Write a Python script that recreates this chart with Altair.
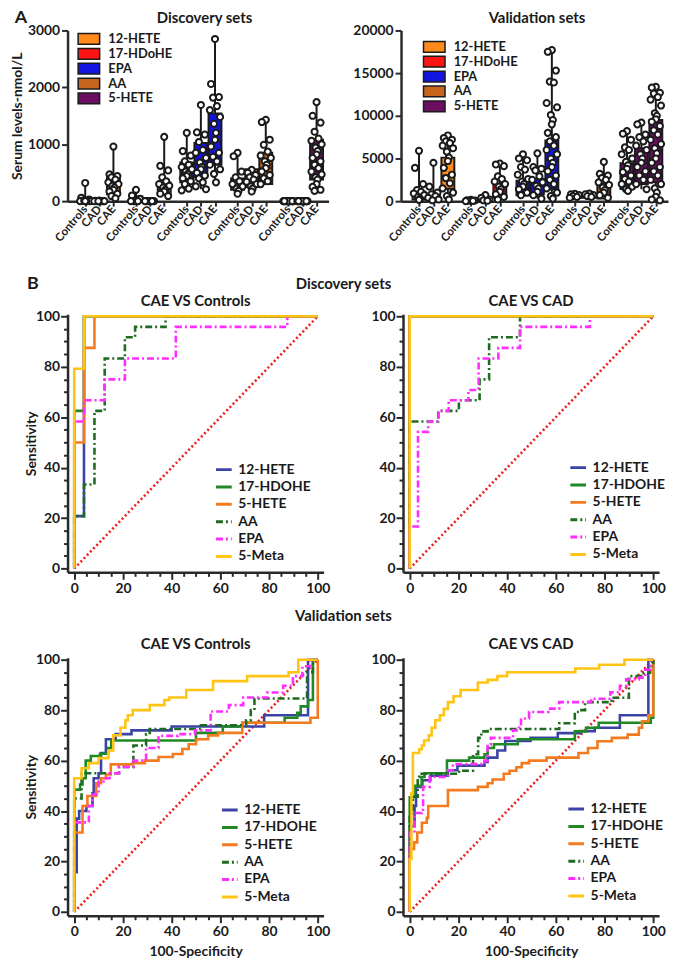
import altair as alt
import numpy as np
import pandas as pd

FONT = "Lato"
INK = "#1a1a1a"
AXC = "#2a2a2a"

# ---------------- Panel A data ----------------
analytes = ["12-HETE", "17-HDoHE", "EPA", "AA", "5-HETE"]
groups = ["Controls", "CAD", "CAE"]
analyte_colors = ["#FF8A1C", "#FF1414", "#1414E0", "#C8651C", "#6B0E62"]

disc_12hete = [[320, 60, 30, 10, 0, 0, 0, 5, 0, 0],
               [10, 5, 0, 0, 0, 0, 0, 0],
               [960, 470, 440, 420, 380, 330, 300, 270, 240, 200, 170, 130, 90, 50]]
disc_17hdohe = [[200, 100, 40, 0, 0, 0],
                [0, 0, 0, 0, 0, 0],
                [1130, 620, 540, 420, 350, 300, 270, 240, 200, 170, 130, 90]]
disc_epa = [[1200, 880, 800, 700, 640, 600, 560, 520, 480, 440, 400, 350, 300, 220, 190],
            [1690, 1210, 1170, 1040, 900, 850, 760, 680, 600, 560, 500, 450, 400, 330, 260, 210],
            [2850, 2060, 1830, 1820, 1670, 1600, 1480, 1360, 1200, 1080, 960, 850, 780, 700, 640, 560, 480, 330]]
disc_aa = [[850, 790, 520, 420, 350, 300, 260, 220, 180, 130],
           [550, 500, 460, 420, 380, 340, 300, 260, 220, 170],
           [1430, 1390, 1080, 990, 870, 800, 760, 700, 640, 580, 520, 460, 400, 350, 300]]
disc_5hete = [[0, 0, 0, 0, 0, 0, 0, 0, 0, 0, 0, 0],
              [0, 0, 0, 0, 0, 0, 0, 0, 0, 0, 0, 0],
              [1740, 1500, 1380, 1220, 1100, 1060, 1000, 940, 880, 820, 760, 700, 640, 580, 520, 470, 420, 380, 300, 250, 200, 180]]

val_12hete = [[5900, 3900, 2000, 1300, 1100, 900, 700, 500, 300, 150],
              [4500, 1700, 1000, 800, 600, 400, 200, 100],
              [7700, 7400, 7200, 7000, 6800, 6500, 6200, 5800, 5100, 4700, 3900, 3100, 2700, 2100, 1500, 1000, 600, 200]]
val_17hdohe = [[150, 100, 80, 50, 30, 0],
               [700, 400, 200, 100, 50],
               [4400, 4300, 4100, 2900, 2600, 2300, 2000, 1700, 1400, 1100, 800, 500, 200]]
val_epa = [[5500, 5000, 4800, 4000, 3700, 3100, 2600, 2300, 2000, 1700, 1400, 1000, 700],
           [5600, 4000, 3800, 3600, 2900, 2500, 2200, 1800, 1500, 1100, 700, 300],
           [17700, 17500, 15300, 14000, 13900, 11500, 11000, 10100, 9500, 9000, 8000, 7500, 7000, 6500,
            6000, 5500, 5000, 4500, 4000, 3500, 3000, 2500, 2000, 1500, 1000, 600, 300]]
val_aa = [[850, 800, 700, 600, 500, 400],
          [900, 800, 700, 600, 500],
          [4600, 3200, 3000, 2700, 2500, 2200, 1900, 1600, 1300, 1000, 700, 400]]
val_5hete = [[8200, 7900, 7200, 6300, 6000, 5500, 5000, 4600, 4200, 3800, 3400, 3000, 2600, 2300, 2000, 1700, 1400, 1200],
             [9200, 9000, 7800, 7500, 7000, 6500, 6000, 5500, 5000, 4500, 4000, 3500, 3000, 2500, 2000, 1400],
             [13400, 13300, 12700, 12600, 12200, 11900, 11200, 10300, 10000, 9600, 9300, 8800, 8300, 7800, 7200,
              6700, 6200, 5600, 5000, 4500, 4000, 3500, 3000, 2500, 2000, 1500, 1000, 500, 200, 100]]

# box quartiles (Q1, median, Q3), per analyte: Controls, CAD, CAE
disc_quart = {"12-HETE": [(0, 0, 30), (0, 0, 0), (120, 260, 420)],
              "17-HDoHE": [(0, 0, 80), (0, 0, 0), (120, 220, 330)],
              "EPA": [(330, 500, 680), (420, 650, 1020), (640, 1050, 1540)],
              "AA": [(200, 280, 400), (250, 380, 560), (300, 580, 850)],
              "5-HETE": [(0, 0, 0), (0, 0, 0), (380, 700, 1080)]}
val_quart = {"12-HETE": [(200, 500, 1100), (200, 500, 900), (1450, 3000, 5100)],
             "17-HDoHE": [(0, 50, 100), (50, 100, 300), (400, 1100, 2000)],
             "EPA": [(700, 1500, 2400), (800, 1800, 2600), (1400, 4800, 7100)],
             "AA": [(400, 500, 700), (400, 600, 800), (300, 1000, 2000)],
             "5-HETE": [(1430, 2800, 4430), (2000, 4500, 6200), (2200, 6000, 9500)]}

disc_sets = {"12-HETE": disc_12hete, "17-HDoHE": disc_17hdohe, "EPA": disc_epa, "AA": disc_aa, "5-HETE": disc_5hete}
val_sets = {"12-HETE": val_12hete, "17-HDoHE": val_17hdohe, "EPA": val_epa, "AA": val_aa, "5-HETE": val_5hete}

# ---------------- Panel B data (ROC vertices: 100-specificity, sensitivity) ----------------
methods = ["12-HETE", "17-HDOHE", "5-HETE", "AA", "EPA", "5-Meta"]
method_colors = ["#3B44A6", "#1F8A24", "#F47A1F", "#1E6B21", "#FF2EFF", "#FFC414"]
method_dash = [[1, 0], [1, 0], [1, 0], [7, 3, 2, 3], [7, 3, 2, 3], [1, 0]]

roc_disc_ctrl = {
    "12-HETE": [(0, 0), (0, 20.8), (4, 20.8), (4, 100), (100, 100)],
    "17-HDOHE": [(0, 0), (0, 62.5), (4, 62.5), (4, 100), (100, 100)],
    "5-HETE": [(0, 0), (0, 50), (4, 50), (4, 87.5), (8.3, 87.5), (8.3, 100), (100, 100)],
    "AA": [(0, 0), (0, 20.8), (4, 20.8), (4, 33.3), (8.3, 33.3), (8.3, 62.5), (12.5, 62.5), (12.5, 83.3),
           (20.8, 83.3), (20.8, 91.7), (25, 91.7), (25, 95.8), (37.5, 95.8), (37.5, 100), (100, 100)],
    "EPA": [(0, 0), (0, 58.3), (4, 58.3), (4, 66.7), (12.5, 66.7), (12.5, 75), (20.8, 75), (20.8, 83.3),
            (41.7, 83.3), (41.7, 95.8), (87.5, 95.8), (87.5, 100), (100, 100)],
    "5-Meta": [(0, 0), (0, 79.2), (4, 79.2), (4, 100), (100, 100)],
}
roc_disc_cad = {
    "12-HETE": [(0, 0), (0, 100), (100, 100)],
    "17-HDOHE": [(0, 0), (0, 100), (100, 100)],
    "5-HETE": [(0, 0), (0, 100), (100, 100)],
    "AA": [(0, 0), (0, 58.3), (11.7, 58.3), (11.7, 62.5), (20.2, 62.5), (20.2, 66.7), (28.7, 66.7), (28.7, 75),
           (32.6, 75), (32.6, 91.7), (45.3, 91.7), (45.3, 100), (100, 100)],
    "EPA": [(0, 0), (0, 16.7), (3.4, 16.7), (3.4, 54.2), (7.6, 54.2), (7.6, 58.3), (11.8, 58.3), (11.8, 62.5),
            (16, 62.5), (16, 66.7), (24.1, 66.7), (24.1, 70.8), (28.3, 70.8), (28.3, 83.3), (36.4, 83.3),
            (36.4, 87.5), (45.3, 87.5), (45.3, 95.8), (74, 95.8), (74, 100), (100, 100)],
    "5-Meta": [(0, 0), (0, 100), (100, 100)],
}
roc_val_ctrl = {
    "12-HETE": [(0, 0), (0, 15.8), (1, 15.8), (1, 37), (2, 37), (2, 40), (5, 40), (5, 42), (7.5, 42), (7.5, 47),
                (8, 47), (8, 53), (10, 53), (10, 55), (11, 55), (11, 63), (13, 63), (13, 68.5), (17, 68.5),
                (17, 70.5), (23.5, 70.5), (23.5, 72), (40, 72), (40, 73.5), (78, 73.5), (78, 78), (96, 78),
                (96, 100), (100, 100)],
    "17-HDOHE": [(0, 0), (0, 48.5), (2.4, 48.5), (2.4, 50.5), (3.4, 50.5), (3.4, 53), (4.7, 53), (4.7, 60),
                 (6.8, 60), (6.8, 61.8), (10.6, 61.8), (10.6, 62.7), (13.9, 62.7), (13.9, 65), (15.2, 65),
                 (15.2, 68), (50, 68), (50, 71), (61, 71), (61, 73.5), (69, 73.5), (69, 75), (86.4, 75),
                 (86.4, 77), (91.6, 77), (91.6, 79), (93, 79), (93, 81.5), (96, 81.5), (96, 84), (98, 84),
                 (98, 100), (100, 100)],
    "5-HETE": [(0, 0), (0, 31.5), (3.4, 31.5), (3.4, 42), (5.4, 42), (5.4, 46), (9, 46), (9, 51), (11, 51),
               (11, 53), (13, 53), (13, 54.5), (15, 54.5), (15, 58.5), (24, 58.5), (24, 59), (29, 59), (29, 60),
               (34.6, 60), (34.6, 61.4), (40.5, 61.4), (40.5, 62.6), (44.4, 62.6), (44.4, 64.6), (47, 64.6),
               (47, 66.5), (50, 66.5), (50, 68.5), (55, 68.5), (55, 70), (59, 70), (59, 71), (69, 71), (69, 75),
               (97, 75), (97, 77), (100, 77), (100, 100)],
    "AA": [(0, 0), (0, 45), (3, 45), (3, 55), (18.4, 55), (18.4, 57.5), (24.3, 57.5), (24.3, 66), (29.5, 66),
           (29.5, 70.4), (31, 70.4), (31, 72.5), (52, 72.5), (52, 74), (70.6, 74), (70.6, 76), (72.5, 76),
           (72.5, 80), (74, 80), (74, 84.6), (95.6, 84.6), (95.6, 95), (98, 95), (98, 100), (100, 100)],
    "EPA": [(0, 0), (0, 35.5), (6, 35.5), (6, 42), (7.5, 42), (7.5, 46.6), (10, 46.6), (10, 51.7), (12, 51.7),
            (12, 53), (14.5, 53), (14.5, 55), (18.4, 55), (18.4, 57.5), (24.3, 57.5), (24.3, 60), (29.5, 60),
            (29.5, 65), (34.6, 65), (34.6, 69.8), (42.5, 69.8), (42.5, 70.5), (49.6, 70.5), (49.6, 72), (56, 72),
            (56, 79.5), (63.5, 79.5), (63.5, 82), (69.4, 82), (69.4, 85), (79.3, 85), (79.3, 87), (85.8, 87),
            (85.8, 89.7), (89.8, 89.7), (89.8, 93.5), (93.7, 93.5), (93.7, 97.4), (97, 97.4), (97, 100), (100, 100)],
    "5-Meta": [(0, 0), (0, 53), (3, 53), (3, 57), (6, 57), (6, 59), (10, 59), (10, 61), (14, 61), (14, 64),
               (16, 64), (16, 70), (19, 70), (19, 73), (21, 73), (21, 76), (22, 76), (22, 78), (24, 78), (24, 80),
               (31, 80), (31, 82), (37, 82), (37, 84), (39, 84), (39, 85), (46, 85), (46, 88), (57, 88),
               (57, 91.5), (71, 91.5), (71, 93.5), (88, 93.5), (88, 95), (92, 95), (92, 100), (100, 100)],
}
roc_val_cad = {
    "12-HETE": [(0, 0), (0, 34), (2, 34), (2, 42), (2.6, 42), (2.6, 49.6), (5.2, 49.6), (5.2, 52.2), (8.5, 52.2),
                (8.5, 54), (15.7, 54), (15.7, 56.2), (19.6, 56.2), (19.6, 58), (30.7, 58), (30.7, 59.5), (32, 59.5),
                (32, 61.2), (36, 61.2), (36, 64), (39.2, 64), (39.2, 67.8), (49.6, 67.8), (49.6, 69), (60.8, 69),
                (60.8, 70.9), (70, 70.9), (70, 71.7), (76, 71.7), (76, 73), (86.3, 73), (86.3, 78), (98, 78),
                (98, 100), (100, 100)],
    "17-HDOHE": [(0, 0), (0, 45.5), (2, 45.5), (2, 50), (4.9, 50), (4.9, 53.5), (6.1, 53.5), (6.1, 55),
                 (15.3, 55), (15.3, 60), (24.4, 60), (24.4, 61.2), (30.7, 61.2), (30.7, 62.5), (32, 62.5), (32, 65),
                 (34.6, 65), (34.6, 66.5), (44.4, 66.5), (44.4, 68.5), (67.8, 68.5), (67.8, 71.6), (72.4, 71.6),
                 (72.4, 73), (77.6, 73), (77.6, 75), (99, 75), (99, 77), (100, 77), (100, 100)],
    "5-HETE": [(0, 0), (0, 25), (1.8, 25), (1.8, 27.6), (3.1, 27.6), (3.1, 31.5), (5, 31.5), (5, 35.4), (7, 35.4),
               (7, 37.3), (7.6, 37.3), (7.6, 42), (15.7, 42), (15.7, 48.3), (28, 48.3), (28, 49.6), (32, 49.6),
               (32, 51), (34, 51), (34, 52.5), (38.6, 52.5), (38.6, 54.8), (41, 54.8), (41, 56), (43.8, 56),
               (43.8, 57.4), (46, 57.4), (46, 59), (49, 59), (49, 60), (56.2, 60), (56.2, 61.2), (69.3, 61.2),
               (69.3, 63), (73.2, 63), (73.2, 65), (77.1, 65), (77.1, 67.7), (83, 67.7), (83, 69), (89.5, 69),
               (89.5, 70.3), (94.1, 70.3), (94.1, 73), (95.4, 73), (95.4, 75.6), (98, 75.6), (98, 78), (100, 78),
               (100, 100)],
    "AA": [(0, 0), (0, 39), (1.3, 39), (1.3, 45.7), (3.3, 45.7), (3.3, 53.5), (3.9, 53.5), (3.9, 54.8),
           (20.3, 54.8), (20.3, 56), (26, 56), (26, 62.5), (28.1, 62.5), (28.1, 69), (29.4, 69), (29.4, 71.6),
           (32, 71.6), (32, 72.5), (61.4, 72.5), (61.4, 74.8), (67.8, 74.8), (67.8, 79.3), (69.8, 79.3),
           (69.8, 80), (72, 80), (72, 83.2), (82.9, 83.2), (82.9, 84.9), (90, 84.9), (90, 93.5), (96.1, 93.5),
           (96.1, 94.8), (98.7, 94.8), (98.7, 97.4), (100, 97.4), (100, 100)],
    "EPA": [(0, 0), (0, 31.5), (2, 31.5), (2, 39.2), (4.9, 39.2), (4.9, 40.5), (5.5, 40.5), (5.5, 49.6),
            (8.2, 49.6), (8.2, 53.5), (15.7, 53.5), (15.7, 56.2), (17.7, 56.2), (17.7, 58.6), (30.7, 58.6),
            (30.7, 60), (32, 60), (32, 66.4), (33.3, 66.4), (33.3, 69), (42.4, 69), (42.4, 72), (44.8, 72),
            (44.8, 73), (45.7, 73), (45.7, 76.7), (49, 76.7), (49, 79.3), (56.9, 79.3), (56.9, 80.6), (61.4, 80.6),
            (61.4, 83.2), (74.5, 83.2), (74.5, 84.5), (82.4, 84.5), (82.4, 87.1), (86.3, 87.1), (86.3, 89.7),
            (88.9, 89.7), (88.9, 92.2), (94.1, 92.2), (94.1, 92.9), (96.7, 92.9), (96.7, 96), (99, 96), (99, 100),
            (100, 100)],
    "5-Meta": [(0, 0), (0, 21), (0.7, 21), (0.7, 47), (1.3, 47), (1.3, 63), (3.9, 63), (3.9, 64.5), (5, 64.5),
               (5, 66), (5.9, 66), (5.9, 68), (7.8, 68), (7.8, 70), (9, 70), (9, 73), (10.5, 73), (10.5, 76),
               (12.4, 76), (12.4, 78), (14, 78), (14, 80.5), (15.7, 80.5), (15.7, 83.2), (18, 83.2), (18, 85.5),
               (20.9, 85.5), (20.9, 88), (28, 88), (28, 91), (32, 91), (32, 92), (36, 92), (36, 93.5), (40, 93.5),
               (40, 95), (68, 95), (68, 96.5), (77.8, 96.5), (77.8, 98), (88.2, 98), (88.2, 100), (100, 100)],
}
chance_x = [0, 100]
chance_y = [0, 100]

# ---------------- helpers ----------------
JIT = [0, -0.28, 0.28, -0.14, 0.14, -0.36, 0.36, -0.07, 0.07]
POS_TICKS = [round(a * 3.6 + g, 2) for a in range(5) for g in range(3)]
LABEL_EXPR = "['Controls','CAD','CAE'][round(datum.value - 3.6*floor(datum.value/3.6 + 0.001))]"


def box_frames(data, quart):
    pts, stats = [], []
    for a, name in enumerate(analytes):
        for g in range(3):
            vals = data[name][g]
            pos = round(a * 3.6 + g, 2)
            for k, v in enumerate(vals):
                pts.append({"analyte": name, "pos": pos + JIT[k % len(JIT)], "value": v})
            q1, med, q3 = quart[name][g]
            stats.append({"analyte": name, "pos": pos, "lo": min(vals), "hi": max(vals),
                          "q1": q1, "med": med, "q3": q3})
    return pd.DataFrame(pts), pd.DataFrame(stats)


def text_layer(txt, x, y, size):
    return alt.Chart(pd.DataFrame({"t": [txt]})).mark_text(
        font=FONT, fontSize=size, fontWeight="bold", color=INK, align="center", baseline="middle"
    ).encode(x=alt.value(x), y=alt.value(y), text="t:N")


def box_panel(data, quart, ymax, ystep, ytitle, width, height, lx, ly, extra):
    pts, stats = box_frames(data, quart)
    xs = alt.Scale(domain=[-0.9, 16.9], nice=False, zero=False)
    ys = alt.Scale(domain=[0, ymax], nice=False)
    xax = alt.Axis(values=POS_TICKS, labelExpr=LABEL_EXPR, labelAngle=-50, labelAlign="right",
                   labelBaseline="middle", labelFontSize=11.5, labelPadding=1, labelOverlap=False,
                   labelFlush=False, tickSize=5, title=None)
    yax = alt.Axis(values=list(range(0, ymax + 1, ystep)), format="d", tickSize=6, labelFontSize=14,
                   labelFlush=False, labelOverlap=False, labelPadding=2, title=ytitle, titlePadding=3,
                   titleFontSize=14)
    x = alt.X("pos:Q", scale=xs, axis=xax)
    whisk = alt.Chart(stats).mark_rule(color=INK, strokeWidth=2).encode(
        x=x, y=alt.Y("lo:Q", scale=ys, axis=yax), y2="hi:Q")
    box = alt.Chart(stats).mark_bar(size=13, stroke=INK, strokeWidth=2).encode(
        x=x, y=alt.Y("q1:Q", scale=ys, axis=yax), y2="q3:Q",
        fill=alt.Fill("analyte:N", scale=alt.Scale(domain=analytes, range=analyte_colors),
                      legend=alt.Legend(orient="none", legendX=lx, legendY=ly, title=None,
                                        symbolType="M-1.9,-0.95H1.9V0.95H-1.9Z", symbolSize=130,
                                        symbolStrokeColor=INK, symbolStrokeWidth=1.5, symbolOpacity=1,
                                        labelFontSize=13, labelOffset=13, rowPadding=-2)))
    med = alt.Chart(stats).mark_tick(color=INK, thickness=2, size=13, orient="horizontal").encode(
        x=x, y=alt.Y("med:Q", scale=ys, axis=yax))
    dots = alt.Chart(pts).mark_point(shape="circle", size=38, fill="white", fillOpacity=1, stroke=INK,
                                     strokeWidth=2, opacity=1).encode(
        x=x, y=alt.Y("value:Q", scale=ys, axis=yax))
    return alt.layer(whisk, box, med, dots, *extra).properties(width=width, height=height)


ROC_TICKS = list(range(0, 101, 5))
MAJOR = "datum.value % 20 === 0"


def roc_panel(curves, width, height, lx, ly, ytitle, xtitle, extra):
    xs = alt.Scale(domain=[-2.75, 102.4], nice=False, zero=False)
    ys = alt.Scale(domain=[-1.5, 100.8], nice=False, zero=False)
    xax = alt.Axis(values=ROC_TICKS, labelExpr=f"{MAJOR} ? datum.label : ''",
                   tickSize={"condition": {"test": MAJOR, "value": 7}, "value": 4},
                   labelFontSize=14, labelPadding=2, labelFlush=False, labelOverlap=False,
                   title=xtitle, titlePadding=6, titleFontSize=14)
    if ytitle:
        yax = alt.Axis(values=ROC_TICKS, labelExpr=f"{MAJOR} ? datum.label : ''",
                       tickSize={"condition": {"test": MAJOR, "value": 7}, "value": 4},
                       labelFontSize=14, labelPadding=1, labelFlush=False, labelOverlap=False,
                       title=ytitle, titleFontSize=14, titleX=-36, titleY=height / 2, titleAngle=-90,
                       titleAlign="center", titleBaseline="middle")
    else:
        yax = alt.Axis(values=ROC_TICKS, labelExpr=f"{MAJOR} ? datum.label : ''",
                       tickSize={"condition": {"test": MAJOR, "value": 7}, "value": 4},
                       labelFontSize=14, labelPadding=1, labelFlush=False, labelOverlap=False, title=None)
    cscale = alt.Scale(domain=methods, range=method_colors)
    dscale = alt.Scale(domain=methods, range=method_dash)
    leg = alt.Legend(orient="none", legendX=lx, legendY=ly, title=None, symbolType="stroke",
                     symbolSize=250, symbolStrokeWidth=3, labelFontSize=14, labelOffset=5,
                     rowPadding=0.5, labelLimit=200)
    diag = alt.Chart(pd.DataFrame({"x": chance_x, "y": chance_y})).mark_line(
        color="#EE1C1C", strokeWidth=2.6, strokeDash=[2, 2.6]).encode(
        x=alt.X("x:Q", scale=xs, axis=xax), y=alt.Y("y:Q", scale=ys, axis=yax))
    layers = [diag]
    for m in methods:
        pts = curves[m]
        df = pd.DataFrame({"method": m, "i": list(range(len(pts))),
                           "x": [p[0] for p in pts], "y": [p[1] for p in pts]})
        layers.append(alt.Chart(df).mark_line(strokeWidth=2.6).encode(
            x=alt.X("x:Q", scale=xs, axis=xax), y=alt.Y("y:Q", scale=ys, axis=yax),
            order=alt.Order("i:Q"),
            color=alt.Color("method:N", scale=cscale, legend=leg),
            strokeDash=alt.StrokeDash("method:N", scale=dscale, legend=leg)))
    return alt.layer(*layers, *extra).properties(width=width, height=height)


# ---------------- assemble ----------------
BOXW_L, BOXW_R, BOXH = 263, 269, 172
boxL = box_panel(disc_sets, disc_quart, 3000, 1000, "Serum levels-nmol/L", BOXW_L, BOXH, 15, 2,
                 [text_layer("A", -47, -12, 18), text_layer("Discovery sets", 138, -12, 15)])
boxR = box_panel(val_sets, val_quart, 20000, 5000, None, BOXW_R, BOXH, 27, 10,
                 [text_layer("Validation sets", 137, -12, 15)])

ROC_W, ROC_H = 258, 260
roc1 = roc_panel(roc_disc_ctrl, ROC_W, ROC_H, 148, 147, "Sensitivity", None,
                 [text_layer("B", -35, -30, 18), text_layer("Discovery sets", 278, -30, 15),
                  text_layer("CAE VS Controls", ROC_W / 2, -13, 15)])
roc2 = roc_panel(roc_disc_cad, ROC_W, ROC_H, 167, 145, None, None,
                 [text_layer("CAE VS CAD", ROC_W / 2, -13, 15)])
roc3 = roc_panel(roc_val_ctrl, ROC_W, ROC_H, 154, 144, "Sensitivity", "100-Specificity",
                 [text_layer("Validation sets", 278, -42, 15),
                  text_layer("CAE VS Controls", ROC_W / 2, -14, 15)])
roc4 = roc_panel(roc_val_cad, ROC_W, ROC_H, 165, 143, None, "100-Specificity",
                 [text_layer("CAE VS CAD", ROC_W / 2, -14, 15)])


def indep(c):
    return c.resolve_scale(color="independent", strokeDash="independent", fill="independent").resolve_legend(
        color="independent", strokeDash="independent", fill="independent")


rowA = indep(alt.hconcat(boxL, boxR, spacing=73, bounds="flush"))
rowB1 = indep(alt.hconcat(roc1, roc2, spacing=80, bounds="flush"))
rowB2 = indep(alt.hconcat(roc3, roc4, spacing=80, bounds="flush"))

partB = indep(alt.concat(rowB1, rowB2, columns=1, spacing=12))
chart = indep(alt.concat(rowA, partB, columns=1, spacing=30)).properties(
    padding={"left": 2, "top": -3, "right": 0, "bottom": 0}, background="white"
).configure_axis(
    domainColor=AXC, domainWidth=2.5, tickColor=AXC, tickWidth=2, labelFont=FONT, labelFontWeight="bold",
    labelColor=INK, titleFont=FONT, titleFontWeight="bold", titleColor=INK, grid=False
).configure_view(stroke="transparent").configure_legend(
    labelFont=FONT, labelFontWeight="bold", labelColor=INK)

chart.save("out.html", embed_options={"renderer": "svg", "actions": False})
